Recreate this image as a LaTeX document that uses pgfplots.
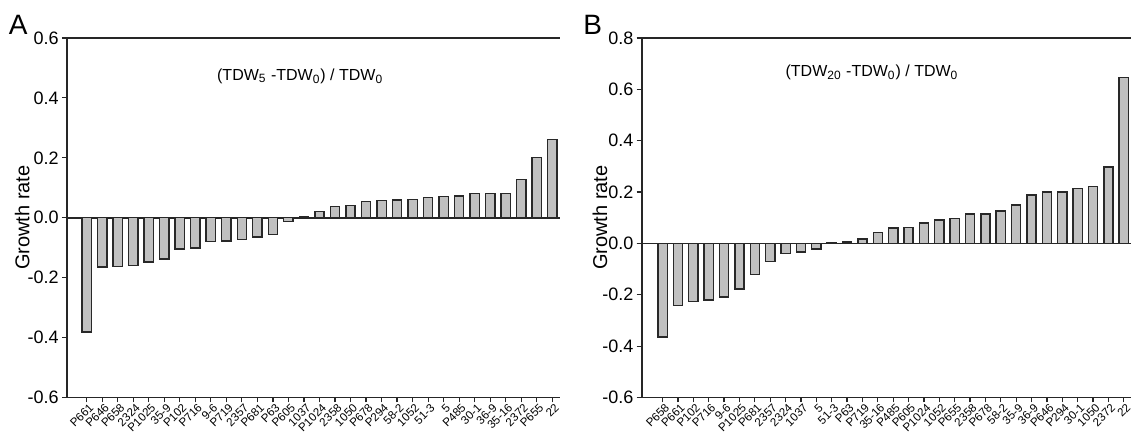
\documentclass[border=0pt]{standalone}
\usepackage{fontspec}
\setmainfont{Liberation Sans}
\usepackage{pgfplots}
\usepackage{pgfplotstable}
\pgfplotsset{compat=1.18}

\definecolor{barfill}{RGB}{192,192,192}
\definecolor{bardraw}{RGB}{40,40,40}

% growth rate after 5 days
\pgfplotstableread{
idx val
0 -0.382
1 -0.164
2 -0.163
3 -0.159
4 -0.148
5 -0.138
6 -0.104
7 -0.101
8 -0.079
9 -0.078
10 -0.073
11 -0.064
12 -0.056
13 -0.012
14 0.004
15 0.021
16 0.038
17 0.040
18 0.054
19 0.057
20 0.059
21 0.060
22 0.068
23 0.070
24 0.073
25 0.080
26 0.081
27 0.081
28 0.127
29 0.202
30 0.261
}\dataA

% growth rate after 20 days
\pgfplotstableread{
idx val
0 -0.364
1 -0.242
2 -0.227
3 -0.220
4 -0.208
5 -0.178
6 -0.122
7 -0.070
8 -0.040
9 -0.034
10 -0.022
11 0.003
12 0.005
13 0.018
14 0.042
15 0.060
16 0.062
17 0.079
18 0.092
19 0.097
20 0.114
21 0.114
22 0.126
23 0.150
24 0.188
25 0.200
26 0.201
27 0.213
28 0.222
29 0.298
30 0.647
}\dataB

\pgfplotsset{
  growth/.style={
    scale only axis, clip=false,
    ybar, bar width=0.6,
    axis x line*=box, axis y line*=left,
    axis line style={-, line width=0.8pt, black!85},
    xtick pos=left, ytick pos=left,
    tick align=outside, major tick length=2.5pt,
    tick style={black!85, line width=0.6pt},
    xtick=data,
    xticklabel style={rotate=45, anchor=north east, inner sep=0.6pt,
      xshift=1.2pt, font=\fontsize{5.8}{6}\selectfont},
    yticklabel style={font=\fontsize{9}{10}\selectfont, inner sep=1.5pt},
    /pgf/number format/.cd, fixed, fixed zerofill, precision=1,
      assume math mode=true,
    /pgfplots/.cd,
    ylabel={Growth rate},
    ylabel style={font=\fontsize{10}{11}\selectfont},
    extra y ticks={0}, extra y tick labels={},
    extra y tick style={grid=major, major grid style={black!85, line width=0.8pt}},
  },
}

\begin{document}
\begin{tikzpicture}
\path[use as bounding box] (0,0) rectangle (566pt,216pt);

\begin{axis}[growth,
  at={(33.5pt,17.25pt)}, anchor=south west,
  width=246.5pt, height=179.75pt,
  xmin=-1.27, xmax=30.5, ymin=-0.6, ymax=0.6,
  ytick={-0.6,-0.4,-0.2,0,0.2,0.4,0.6},
  ylabel shift=-11pt,
  xticklabels={P661,P646,P658,2324,P1025,35-9,P102,P716,9-6,P719,2357,P681,P63,P605,1037,P1024,2358,1050,P678,P294,58-2,1052,51-3,5,P485,30-1,36-9,35-16,2372,P655,22},
]
\addplot[fill=barfill, draw=bardraw, line width=0.7pt] table[x=idx, y=val] {\dataA};
\node[font=\fontsize{14}{14}\selectfont] at (rel axis cs:-0.099,1.036) {A};
\node[font=\fontsize{8}{9}\selectfont] at (rel axis cs:0.473,0.894) {(TDW\textsubscript{5} -TDW\textsubscript{0}) / TDW\textsubscript{0}};
\end{axis}

\begin{axis}[growth,
  at={(320.85pt,17.25pt)}, anchor=south west,
  width=244.5pt, height=179.75pt,
  xmin=-1.36, xmax=30.45, ymin=-0.6, ymax=0.8,
  ytick={-0.6,-0.4,-0.2,0,0.2,0.4,0.6,0.8},
  ylabel shift=-12.5pt,
  xticklabels={P658,P661,P102,P716,9-6,P1025,P681,2357,2324,1037,5,51-3,P63,P719,35-16,P485,P605,P1024,1052,P655,2358,P678,58-2,35-9,36-9,P646,P294,30-1,1050,2372,22},
]
\addplot[fill=barfill, draw=bardraw, line width=0.7pt] table[x=idx, y=val] {\dataB};
\node[font=\fontsize{14}{14}\selectfont] at (rel axis cs:-0.1,1.036) {B};
\node[font=\fontsize{8}{9}\selectfont] at (rel axis cs:0.471,0.905) {(TDW\textsubscript{20} -TDW\textsubscript{0}) / TDW\textsubscript{0}};
\end{axis}
\end{tikzpicture}
\end{document}
